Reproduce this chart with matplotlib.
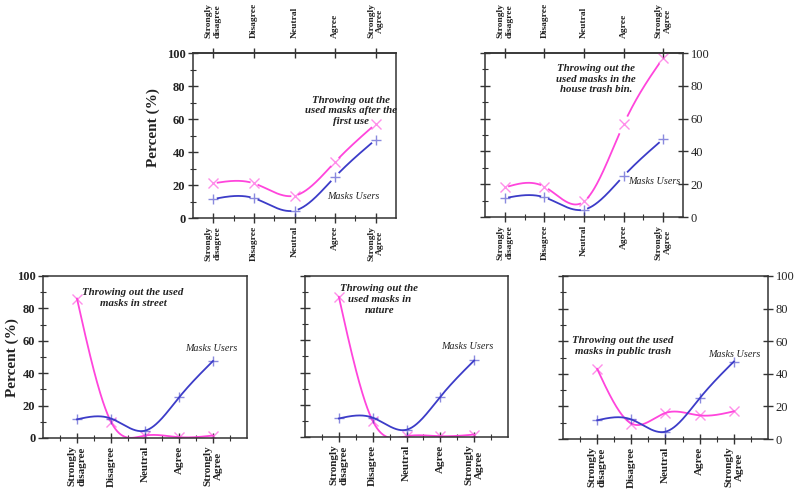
import numpy as np
import matplotlib.pyplot as plt

plt.rcParams['font.family'] = ['Liberation Serif', 'DejaVu Serif']

categories = ["Strongly\ndisagree", "Disagree", "Neutral", "Agree", "Strongly\nAgree"]
mask_users = [11.5, 12, 4.5, 25, 47.5]
after_first_use = [21, 21, 13.5, 34, 57]
house_trash_bin = [18, 18.5, 9.5, 56.5, 97]
in_street = [86, 10, 1.5, 0.5, 1.5]
in_nature = [87, 10, 0.5, 0.5, 1.5]
public_trash = [43, 9.5, 16, 14.5, 17]

notes = ["Throwing out the\nused masks after the\nfirst use",
         "Throwing out the\nused masks in the\nhouse trash bin.",
         "Throwing out the used\nmasks in street",
         "Throwing out the\nused masks in\nnature",
         "Throwing out the used\nmasks in public trash"]

PINK = '#ff45dc'
BLUE = '#3c3cc8'
TXT = '#222222'
AXC = '#333333'


def smooth(y, n=300):
    # natural cubic spline through the points, for drawing only
    y = np.asarray(y, float)
    k = len(y)
    x = np.arange(1, k + 1)
    A = np.zeros((k, k))
    d = np.zeros(k)
    A[0, 0] = A[-1, -1] = 1
    for i in range(1, k - 1):
        A[i, i - 1:i + 2] = [1, 4, 1]
        d[i] = 6 * (y[i + 1] - 2 * y[i] + y[i - 1])
    M = np.linalg.solve(A, d)
    xs = np.linspace(1, k, n)
    i = np.clip(np.floor(xs).astype(int) - 1, 0, k - 2)
    t = xs - x[i]
    s = 1 - t
    ys = (M[i] * s**3 + M[i + 1] * t**3) / 6 + (y[i] - M[i] / 6) * s + (y[i + 1] - M[i + 1] / 6) * t
    return xs, ys


def panel(rect, pink, note, note_xy, users_xy, top, side, lab_size):
    ax = fig.add_axes(rect)
    x = np.arange(1, len(categories) + 1)
    for vals, col, mk in [(pink, PINK, 'x'), (mask_users, BLUE, '+')]:
        xs, ys = smooth(vals)
        if top:
            # line drawn with gaps around the symbols
            ys = np.where(np.min(np.abs(xs[:, None] - x[None, :]), axis=1) < 0.1, np.nan, ys)
        ax.plot(xs, ys, color=col, lw=1.3)
        ax.plot(x, vals, ls='none', marker=mk, ms=7, mew=1, color=col, alpha=0.6)

    ax.set_ylim(0, 100)
    ax.set_yticks(np.arange(0, 101, 20))
    ax.set_yticks(np.arange(10, 100, 20), minor=True)
    ax.set_xticks(x)
    ax.set_xticklabels(categories, rotation=90, fontsize=lab_size, fontweight='bold',
                       multialignment='center', color=TXT)
    if top:
        ax.set_xlim(0.5, 5.5)
        ax.set_xticks(np.arange(1.5, 5, 1), minor=True)
        sec = ax.secondary_xaxis('top')
        sec.set_xticks(x)
        sec.set_xticklabels(categories, rotation=90, fontsize=lab_size, fontweight='bold',
                            multialignment='center', color=TXT)
        sec.tick_params(direction='inout', length=7, width=1, colors=AXC, pad=7)
        sec.tick_params(labelcolor=TXT)
        sec.spines['top'].set_linewidth(1.1)
        sec.spines['top'].set_color(AXC)
    else:
        ax.set_xlim(0, 6)
        ax.set_xticks(np.arange(0.5, 6, 1), minor=True)

    ax.tick_params(which='major', direction='inout', length=7, width=1, colors=AXC, pad=2)
    ax.tick_params(which='minor', direction='inout', length=4, width=0.8, colors=AXC)
    ax.tick_params(axis='both', labelcolor=TXT)
    ax.tick_params(axis='y', labelsize=9)
    for lab in ax.get_yticklabels():
        lab.set_fontweight('bold')
    if side == 'left':
        ax.tick_params(axis='y', left=True, labelleft=True, right=False)
    elif side == 'right':
        ax.tick_params(axis='y', left=True, labelleft=False, right=True, labelright=True)
    else:
        ax.tick_params(axis='y', left=True, labelleft=False, right=False)
    for sp in ax.spines.values():
        sp.set_color(AXC)
        sp.set_linewidth(1.1)

    ax.text(note_xy[0], note_xy[1], note, ha='center', va='center', fontsize=7.8,
            fontweight='bold', fontstyle='italic', color=TXT, linespacing=1.25)
    ax.text(users_xy[0], users_xy[1], "Masks Users", ha='center', va='center', fontsize=7.3,
            fontstyle='italic', color=TXT)
    return ax


fig = plt.figure(figsize=(7.96, 4.94), dpi=100)

panel([0.2425, 0.5587, 0.255, 0.334], after_first_use, notes[0], (4.4, 65), (4.46, 13.3), True, 'left', 6.8)
panel([0.6093, 0.5607, 0.2487, 0.332], house_trash_bin, notes[1], (3.3, 84), (4.78, 21.5), True, 'right', 6.8)
panel([0.054, 0.1134, 0.2563, 0.328], in_street, notes[2], (2.65, 86.5), (4.94, 55), False, 'left', 8)
panel([0.3832, 0.1154, 0.255, 0.326], in_nature, notes[3], (2.2, 85.5), (4.8, 56), False, 'none', 8)
panel([0.7073, 0.1113, 0.2575, 0.33], public_trash, notes[4], (1.76, 57), (5.0, 52), False, 'right', 8)

fig.text(153 / 796, 1 - 128 / 494, "Percent (%)", rotation=90, ha='center', va='center',
         fontsize=11, fontweight='bold', color=TXT)
fig.text(12 / 796, 1 - 358 / 494, "Percent (%)", rotation=90, ha='center', va='center',
         fontsize=11, fontweight='bold', color=TXT)

fig.savefig('out.png', dpi=100)
